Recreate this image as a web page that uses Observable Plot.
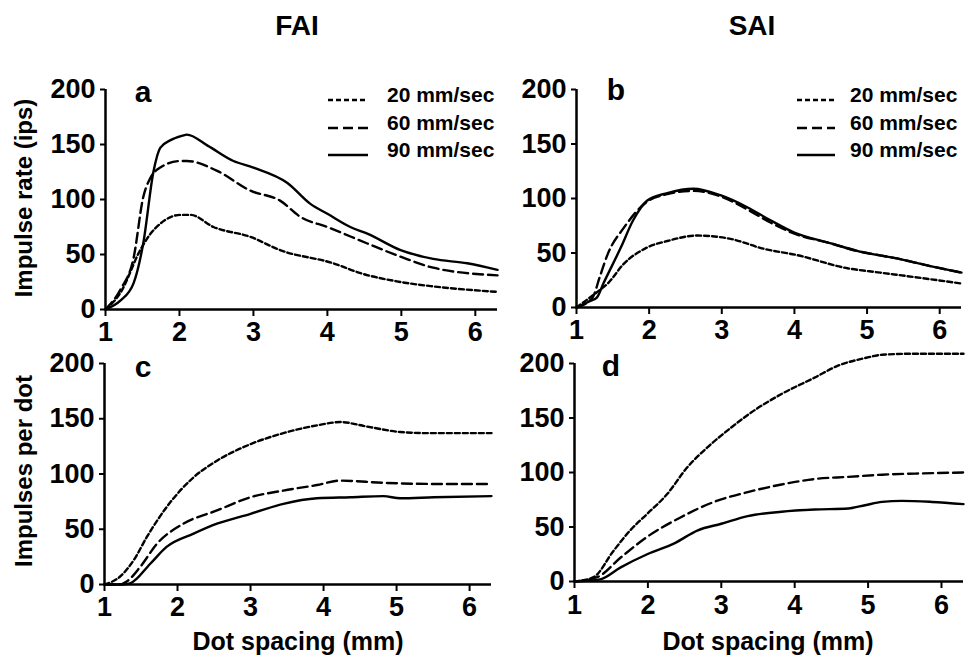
<!DOCTYPE html>
<html>
<head>
<meta charset="utf-8">
<script src="https://cdn.jsdelivr.net/npm/d3@7"></script>
<script src="https://cdn.jsdelivr.net/npm/@observablehq/plot@0.6"></script>
<style>
  html, body { margin: 0; padding: 0; background: #fff; }
  #root { position: relative; width: 967px; height: 658px; overflow: hidden; font-family: "Liberation Sans", Arial, Helvetica, sans-serif; font-weight: bold; color: #000; }
  .abs { position: absolute; }
  .txt { position: absolute; white-space: nowrap; line-height: 1; }
  svg.panel text { font-size: 27px !important; font-weight: bold; }
</style>
</head>
<body>
<div id="root"></div>
<script>
// ---------- data (dot spacing mm, value) ----------
const speeds = ["20 mm/sec", "60 mm/sec", "90 mm/sec"];
const xTicks = [1, 2, 3, 4, 5, 6];
const yTicks = [0, 50, 100, 150, 200];
const columnTitles = ["FAI", "SAI"];
const yLabels = ["Impulse rate (ips)", "Impulses per dot"];
const xLabel = "Dot spacing (mm)";
const panelLetters = ["a", "b", "c", "d"];

// Panel a: FAI impulse rate
const a20 = [[1,0],[1.2,15],[1.47,54],[1.61,69],[1.74,78],[2.01,86],[2.15,86],[2.46,75],[2.96,66],[3.36,54],[4.08,42],[4.45,33],[4.99,25],[5.43,21],[6.3,16]];
const a60 = [[1,0],[1.2,18],[1.38,47],[1.51,102],[1.61,120],[1.74,129],[2.01,135],[2.1,135],[2.51,126],[2.96,108],[3.36,99],[3.64,84],[4.0,75],[4.54,60],[4.99,48],[5.43,38],[6.3,31]];
const a90 = [[1,0],[1.2,8],[1.38,24],[1.51,60],[1.65,126],[1.74,147],[1.88,154],[2.04,158],[2.1,159],[2.38,149],[2.73,135],[3.0,129],[3.46,115],[3.77,96],[4.0,87],[4.31,75],[4.54,69],[4.99,54],[5.43,46],[5.89,42],[6.3,36]];
// Panel b: SAI impulse rate
const b20 = [[1,0],[1.3,15],[1.43,22],[1.65,40],[1.97,55],[2.25,61],[2.66,66],[3.12,63],[3.57,54],[4.04,48],[4.73,36],[5.18,32],[5.64,28],[6.3,22]];
const b60 = [[1,0],[1.22,9],[1.32,28],[1.43,49],[1.65,73],[1.97,97],[2.25,104],[2.61,107],[2.98,102],[3.35,90],[3.67,78],[3.99,68],[4.49,59],[4.86,52],[5.41,45],[5.87,38],[6.3,32]];
const b90 = [[1,0],[1.19,6],[1.28,9],[1.37,22],[1.61,55],[1.78,80],[1.97,98],[2.25,105],[2.61,109],[2.98,103],[3.35,92],[3.67,80],[3.99,69],[4.49,59],[4.86,52],[5.41,45],[5.87,38],[6.3,32]];
// Panel c: FAI impulses per dot
const c20 = [[1,0],[1.21,7],[1.4,22],[1.58,43],[1.85,70],[2.22,97],[2.54,112],[3.0,127],[3.45,137],[3.91,144],[4.23,147],[4.59,143],[5.05,138],[5.42,137],[6.3,137]];
const c60 = [[1,0],[1.2,0],[1.31,3],[1.49,16],[1.72,37],[2.08,55],[2.54,67],[3.0,79],[3.45,85],[3.91,90],[4.23,94],[4.82,92],[5.51,91],[6.3,91]];
const c90 = [[1,0],[1.25,0],[1.35,1],[1.63,19],[1.85,34],[2.22,46],[2.54,55],[3.0,64],[3.45,73],[3.91,78],[4.37,79],[4.82,80],[5.05,78],[5.51,79],[6.3,80]];
// Panel d: SAI impulses per dot
const d20 = [[1,0],[1.26,4],[1.53,28],[1.76,47],[1.99,62],[2.26,80],[2.54,105],[2.81,123],[3.13,141],[3.45,157],[3.82,172],[4.27,187],[4.59,198],[4.96,205],[5.19,208],[5.64,209],[6.3,209]];
const d60 = [[1,0],[1.31,4],[1.63,22],[1.99,41],[2.45,59],[2.9,73],[3.36,82],[3.82,89],[4.27,94],[4.73,96],[5.19,98],[5.64,99],[6.3,100]];
const d90 = [[1,0],[1.35,2],[1.63,13],[1.99,25],[2.36,35],[2.68,47],[3.0,53],[3.36,60],[3.82,64],[4.27,66],[4.73,67],[4.96,70],[5.19,73],[5.46,74],[5.87,73],[6.3,71]];

// ---------- styles ----------
const dashes = ["5,3", "10,5", null];
const FONT = '"Liberation Sans", Arial, Helvetica, sans-serif';
const root = document.getElementById("root");

function panel({series, box}) {
  const marks = [
    Plot.ruleY([0], {x1: 1, x2: 6.3, stroke: "#000", strokeWidth: 2.5}),
    Plot.ruleX([1], {y1: 0, y2: 200, stroke: "#000", strokeWidth: 2.5}),
    Plot.axisY({ticks: yTicks, tickSize: 5, tickPadding: 5, strokeWidth: 2, label: null, fontSize: 27, tickFormat: d => String(d)}),
    Plot.axisX({ticks: xTicks, tickSize: 7, tickPadding: box.xpad, strokeWidth: 2, label: null, fontSize: 27, tickFormat: d => String(d)}),
    ...series.map((pts, i) => Plot.line(pts, {
      x: d => d[0], y: d => d[1], curve: "monotone-x",
      stroke: "#000", strokeWidth: 2.4, strokeDasharray: dashes[i]
    }))
  ];
  const svg = Plot.plot({
    width: box.w, height: box.h,
    marginLeft: box.ml, marginRight: box.mr, marginTop: box.mt, marginBottom: box.mb,
    x: {domain: [1, 6.3]},
    y: {domain: [0, 200]},
    style: {fontFamily: FONT, fontWeight: "bold", fontSize: "27px", color: "#000", background: "transparent", overflow: "visible"},
    marks
  });
  svg.classList.add("abs");
  svg.classList.add("panel");
  svg.style.left = box.left + "px";
  svg.style.top = box.top + "px";
  svg.querySelectorAll("text").forEach(t => { t.style.fontSize = "27px"; t.style.fontWeight = "bold"; });
  root.appendChild(svg);
}

function text(str, x, y, size, opts = {}) {
  const el = document.createElement("div");
  el.className = "txt";
  el.textContent = str;
  el.style.fontSize = size + "px";
  el.style.left = x + "px";
  el.style.top = y + "px";
  let tf = opts.center ? "translate(-50%, -50%)" : "";
  if (opts.rotate) tf += " rotate(-90deg)";
  if (tf) el.style.transform = tf;
  root.appendChild(el);
  return el;
}

function legend(x0, x1, tx) {
  const rows = [100, 128, 155];
  const ns = "http://www.w3.org/2000/svg";
  const svg = document.createElementNS(ns, "svg");
  svg.setAttribute("width", 180); svg.setAttribute("height", 180);
  svg.setAttribute("viewBox", `${x0 - 5} 0 180 180`);
  svg.classList.add("abs");
  svg.style.left = (x0 - 5) + "px"; svg.style.top = "0px";
  speeds.forEach((s, i) => {
    const l = document.createElementNS(ns, "line");
    l.setAttribute("x1", x0); l.setAttribute("x2", x1);
    l.setAttribute("y1", rows[i]); l.setAttribute("y2", rows[i]);
    l.setAttribute("stroke", "#000"); l.setAttribute("stroke-width", 2.4);
    if (dashes[i]) l.setAttribute("stroke-dasharray", dashes[i]);
    svg.appendChild(l);
    const t = document.createElementNS(ns, "text");
    t.setAttribute("x", tx); t.setAttribute("y", rows[i] + 2);
    t.setAttribute("font-size", 21); t.setAttribute("font-weight", "bold");
    t.setAttribute("font-family", FONT);
    t.textContent = s;
    svg.appendChild(t);
  });
  root.appendChild(svg);
}

panel({series: [a20, a60, a90], box: {left: 0, top: 60, w: 500, h: 290, ml: 105, mr: 3, mt: 29, mb: 41, xpad: 5}});
panel({series: [b20, b60, b90], box: {left: 470, top: 60, w: 497, h: 290, ml: 106, mr: 6, mt: 29, mb: 43, xpad: 5}});
panel({series: [c20, c60, c90], box: {left: 0, top: 330, w: 500, h: 300, ml: 104, mr: 9, mt: 33, mb: 46, xpad: 5}});
panel({series: [d20, d60, d90], box: {left: 470, top: 330, w: 497, h: 300, ml: 104, mr: 4, mt: 33, mb: 49, xpad: 6}});

legend(328, 368, 387);
legend(797, 835, 850);

text(columnTitles[0], 297, 26, 28, {center: true});
text(columnTitles[1], 752, 26, 28, {center: true});
text(yLabels[0], 24, 198, 24, {center: true, rotate: true});
text(yLabels[1], 24, 471, 24, {center: true, rotate: true});
text(xLabel, 298, 641, 25, {center: true});
text(xLabel, 768, 641, 25, {center: true});
text(panelLetters[0], 143, 92, 30, {center: true});
text(panelLetters[1], 616, 90, 30, {center: true});
text(panelLetters[2], 143, 367, 30, {center: true});
text(panelLetters[3], 611, 366, 30, {center: true});
</script>
</body>
</html>
